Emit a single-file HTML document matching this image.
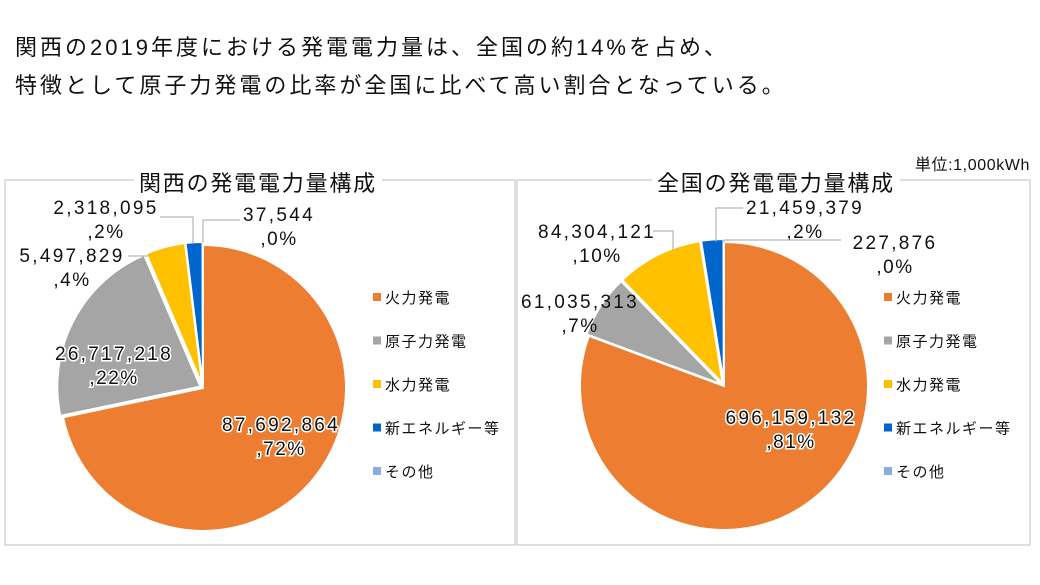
<!DOCTYPE html>
<html><head><meta charset="utf-8">
<style>
body{margin:0;width:1040px;height:585px;background:#fff;overflow:hidden;font-family:"Liberation Sans","Noto Sans CJK JP",sans-serif;}
.h{position:absolute;left:15px;font-size:22px;letter-spacing:3px;color:#111;white-space:nowrap}
</style></head><body>
<div class="h" style="top:30px">関西の2019年度における発電電力量は、全国の約14%を占め、</div>
<div class="h" style="top:68px">特徴として原子力発電の比率が全国に比べて高い割合となっている。</div>
<svg id="svg" width="1040" height="585" style="position:absolute;left:0;top:0" font-family="Liberation Sans, Noto Sans CJK JP, sans-serif">
<text x="1030" y="170" text-anchor="end" font-size="16" letter-spacing="0.6" fill="#111">単位:1,000kWh</text>
</svg>
<script>
const categories=["火力発電","原子力発電","水力発電","新エネルギー等","その他"];
const colors=["#ED7D31","#A5A5A5","#FFC000","#0066CC","#8FAADC"];
const kansaiValues=[87692864,26717218,5497829,2318095,37544];
const zenkokuValues=[696159132,61035313,84304121,21459379,227876];
const kansaiPct=["72%","22%","4%","2%","0%"];
const zenkokuPct=["81%","7%","10%","2%","0%"];
const svg=document.getElementById('svg');
const NS="http://www.w3.org/2000/svg";
function mk(t,a){const e=document.createElementNS(NS,t);for(const k in a)e.setAttribute(k,a[k]);svg.appendChild(e);return e;}
function fmt(v){return v.toLocaleString('en-US');}
function angleScale(vals){const tot=vals.reduce((a,b)=>a+b,0);let c=0;return vals.map(v=>{const s=c/tot*2*Math.PI;c+=v;return [s,c/tot*2*Math.PI];});}
function pt(cx,cy,r,a){return [cx+r*Math.sin(a),cy-r*Math.cos(a)];}
function chart(o){
  const box=mk('rect',{x:o.bx,y:180,width:o.bw,height:365,fill:'none',stroke:'#bfbfbf','stroke-width':1});
  
  
  const tb=mk('rect',{x:o.tx-124,y:170,width:248,height:24,fill:'#fff'});
  
  
  const t=mk('text',{x:o.tx,y:191,'text-anchor':'middle','font-size':22,'letter-spacing':1.8,fill:'#111'});t.textContent=o.title;
  
  
  const angs=angleScale(o.vals);
  angs.forEach(([s,e],i)=>{
    const mid=(s+e)/2;const off=i===0?0:3;
    const cx=o.cx+off*Math.sin(mid),cy=o.cy-off*Math.cos(mid);
    const p1=pt(cx,cy,o.r,s),p2=pt(cx,cy,o.r,e);
    const large=(e-s)>Math.PI?1:0;
    const p=mk('path',{d:`M${cx},${cy}L${p1[0]},${p1[1]}A${o.r},${o.r} 0 ${large} 1 ${p2[0]},${p2[1]}Z`,fill:colors[i],stroke:'#fff','stroke-width':2});
    
    
  });
  o.labels.forEach((L,i)=>{
    if(L.line){const l=mk('polyline',{points:L.line,fill:'none',stroke:'#a6a6a6','stroke-width':1});
      
      }
    const a=mk('text',{x:L.x,y:L.y,'text-anchor':'middle','font-size':19,fill:'#111','letter-spacing':'2.3',stroke:L.halo?'#fff':'none','stroke-width':L.halo?3:0,'paint-order':'stroke'});
    a.textContent=fmt(o.vals[i]);
    
    
    const b=mk('text',{x:L.x,y:L.y+24,'text-anchor':'middle','font-size':19,fill:'#111','letter-spacing':'1.5',stroke:L.halo?'#fff':'none','stroke-width':L.halo?3:0,'paint-order':'stroke'});
    b.textContent=','+o.pct[i];
    
    
  });
  categories.forEach((c,i)=>{
    const y=297+i*43.5;
    const r=mk('rect',{x:o.lx,y:y-4,width:8,height:8,fill:colors[i]});
    
    
    const t2=mk('text',{x:o.lx+12,y:y+6,'font-size':15,fill:'#111','letter-spacing':'1.5'});t2.textContent=c;
    
    
  });
}
chart({id:'kansai',title:'関西の発電電力量構成',bx:5,bw:510,tx:258,cx:203,cy:388,r:143,vals:kansaiValues,pct:kansaiPct,lx:373,
 labels:[{x:281,y:431,halo:true},{x:114,y:360,halo:true},{x:72,y:262,line:'128,256 148,256'},{x:106,y:214,line:'160,217 193,217 193,243'},{x:279,y:221,line:'240,220 203,220 203,243'}]});
chart({id:'zenkoku',title:'全国の発電電力量構成',bx:517,bw:513,tx:776,cx:724,cy:386,r:144,vals:zenkokuValues,pct:zenkokuPct,lx:884,
 labels:[{x:791,y:424,halo:true},{x:580,y:308},{x:597,y:238,line:'653,231 673,231 673,250'},{x:805,y:214,line:'743,208 716,208 716,242'},{x:895,y:249,line:'841,240 724,240 724,243'}]});
</script>
</body></html>
